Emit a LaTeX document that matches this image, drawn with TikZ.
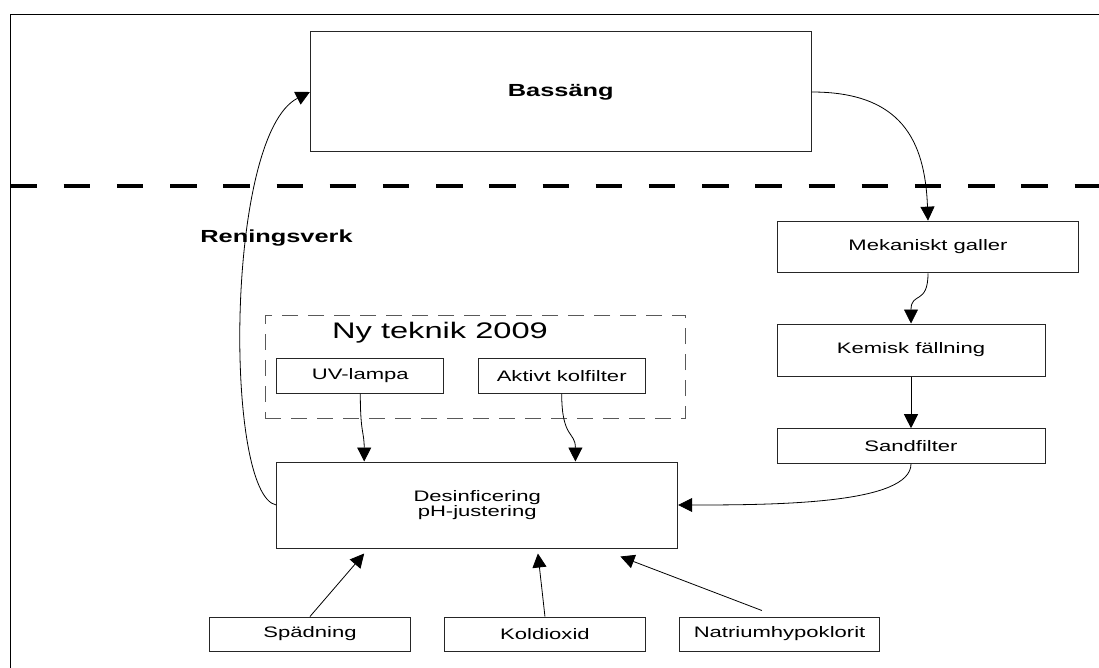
\documentclass[tikz,border=0pt]{standalone}
\usepackage{fontspec}
\setmainfont{Liberation Sans}[FakeStretch=1.45]
\usetikzlibrary{positioning,arrows.meta}

\begin{document}
\begin{tikzpicture}[x=1pt,y=-1pt,
		box/.style={draw=black!85,line width=1pt,inner sep=0pt,align=center,font=\fontsize{15.2}{15.5}\selectfont},
		bigbox/.style={box,font=\fontsize{17.5}{20}\selectfont\bfseries},
		newtech/.style={draw=black!65,line width=1pt,dash pattern=on 16pt off 10pt,inner sep=0pt},
		arr/.style={line width=0.8pt,-{Triangle[length=14pt,width=14pt]}}]
		\useasboundingbox (0,0) rectangle (1099,668);
		\draw[line width=1.2pt] (10.5,668) -- (10.5,14.3) -- (1099,14.3);
		\draw[line width=4.5pt,dash pattern=on 26.5pt off 26.7pt] (10.5,186) -- (1099,186);

		\node[bigbox,minimum width=500.8pt,minimum height=120pt]						(bass)		at (560.8,92)	{Bassäng};
		\node[font=\fontsize{17.5}{20}\selectfont\bfseries]							(ren)		at (276.5,238)	{Reningsverk};
		\node[box,minimum width=300.8pt,minimum height=51.7pt]						(mek)		at (928,247)	{Mekaniskt galler};
		\node[box,minimum width=268pt,minimum height=52pt]							(kem)		at (911,350)	{Kemisk fällning};
		\node[box,minimum width=268pt,minimum height=34.6pt,below=51.7pt of kem]		(sand)					{Sandfilter};
		\node[newtech,minimum width=420pt,minimum height=103pt]						(ny)		at (475,366.5)	{};
		\node[font=\fontsize{22.5}{25}\selectfont]									(nylabel)	at (440,333)	{Ny teknik 2009};
		\node[box,minimum width=167pt,minimum height=34.3pt]							(uv)		at (360.3,376)	{UV-lampa};
		\node[box,minimum width=167.4pt,minimum height=34.3pt,right=33.2pt of uv]		(kol)					{Aktivt kolfilter};
		\node[box,minimum width=401pt,minimum height=86pt]							(des)		at (477.2,505)	{Desinficering\\pH-justering};
		\node[box,minimum width=200.7pt,minimum height=34pt]							(spad)		at (310,634)	{Spädning};
		\node[box,minimum width=200.6pt,minimum height=34pt,right=33.3pt of spad]		(kold)					{Koldioxid};
		\node[box,minimum width=200pt,minimum height=34pt,right=33.3pt of kold]		(natr)					{Natriumhypoklorit};

		\draw[arr] (bass.east) .. controls +(89,0) and +(-3,-81) .. (mek.north);
		\draw[arr] (mek.south) .. controls +(0,32) and +(0,-32) .. (kem.north);
		\draw[arr] (kem) -- (sand);
		\draw[arr] (sand.south) .. controls +(0,40) and +(100,0) .. (des.east);
		\draw[arr] (des.west) .. controls +(-52,-10) and +(-85,43) .. (bass.west);
		\draw[arr] (uv.south) .. controls +(0,40) and +(0,-30) .. ([xshift=88pt]des.north west);
		\draw[arr] (kol.south) .. controls +(0,45) and +(0,-30) .. ([xshift=299.2pt]des.north west);
		\draw[arr] (spad.north) -- ([xshift=88pt,yshift=-5pt]des.south west);
		\draw[arr] (kold.north) -- ([xshift=261.7pt,yshift=-5pt]des.south west);
		\draw[arr] ([xshift=-17.7pt,yshift=6pt]natr.north) -- ([xshift=344.2pt,yshift=-8pt]des.south west);
	\end{tikzpicture}
\end{document}
